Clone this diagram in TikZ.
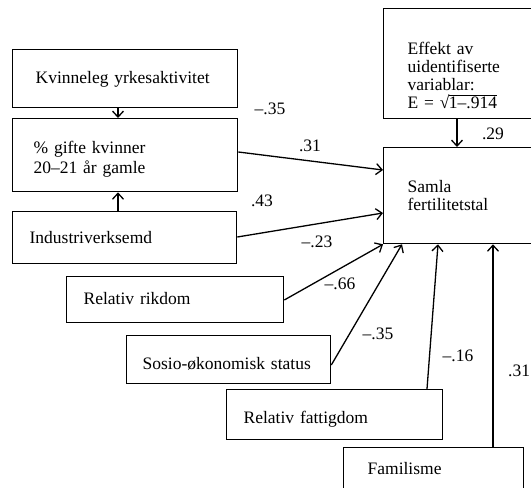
\documentclass[tikz,border=0pt]{standalone}
\usepackage{fontspec}
\setmainfont{Liberation Serif}
\usetikzlibrary{arrows.meta,calc}
\setlength{\lineskiplimit}{-20pt}
\begin{document}
\begin{tikzpicture}[x=1pt,y=-1pt,
  every node/.style={font=\fontsize{17.5}{20}\selectfont},
  bx/.style={draw,line width=1.3pt,rectangle,anchor=north west,align=left,inner ysep=0pt,text depth=4pt},
  lbl/.style={inner sep=0pt,anchor=center},
  con/.style={line width=1.3pt,-{Straight Barb[length=6pt,width=11pt,line width=1.3pt]}}]
\path[use as bounding box,clip] (0,0) rectangle (531,488);
% boxes
\node[bx,minimum width=225,minimum height=58,inner xsep=23,text width=179,text height=14pt] (k1) at (12,49) {Kvinneleg yrkesaktivitet};
\node[bx,minimum width=225,minimum height=73,inner xsep=21,text width=183,text height=19.5pt,text depth=,font=\fontsize{17.5}{20}\selectfont] (k2) at (12,118) {\% gifte kvinner\\20–21 år gamle};
\node[bx,minimum width=224,minimum height=52,inner xsep=17,text width=190,text height=16pt] (k3) at (12,211) {Industriverksemd};
\node[bx,minimum width=170,minimum height=110,inner xsep=24,text width=122,text height=35pt,text depth=,font=\fontsize{17.5}{18}\selectfont] (eff) at (383,8) {Effekt av\\uidentifiserte\\variablar:\\E = √\kern-0.6pt$\overline{\mbox{1–.914}}$};
\node[bx,minimum width=170,minimum height=96,inner xsep=24,text width=122,text height=12pt,text depth=,font=\fontsize{17.5}{18}\selectfont] (sam) at (383,147) {Samla\\fertilitetstal};
\node[bx,minimum width=217,minimum height=46,inner xsep=17,text width=183,text height=14pt] (rik) at (66,276) {Relativ rikdom};
\node[bx,minimum width=204,minimum height=48,inner xsep=16,text width=172,text height=24pt] (sos) at (126,335) {Sosio-økonomisk status};
\node[bx,minimum width=216,minimum height=50,inner xsep=17,text width=182,text height=22pt] (fat) at (226,389) {Relativ fattigdom};
\node[bx,minimum width=180,minimum height=53,inner xsep=24,text width=132,text height=4pt] (fam) at (343,447) {Familisme};
% connectors
\draw[con] ($(k1.south west)+(106,0)$) -- ($(k2.north west)+(106,0)$);
\draw[con] ($(k3.north west)+(106,0)$) -- ($(k2.south west)+(106,0)$);
\draw[con] ($(k2.north east)+(0,34)$) -- ($(sam.north west)+(0,23)$);
\draw[con] ($(k3.north east)+(0,26)$) -- ($(sam.north west)+(0,66)$);
\draw[con] ($(rik.north east)+(0,24)$) -- (sam.south west);
\draw[con] ($(sos.north east)+(0,30)$) -- ($(sam.south west)+(19,0)$);
\draw[con] ($(fat.north west)+(201,0)$) -- ($(sam.south west)+(55,0)$);
\draw[con] ($(fam.north west)+(150,0)$) -- ($(sam.south west)+(110,0)$);
\draw[con] ($(eff.south west)+(74,0)$) -- ($(sam.north west)+(74,0)$);
% labels
\node[lbl] (l1) at (270,109) {–.35};
\node[lbl] (l2) at (310,146) {.31};
\node[lbl] (l3) at (262,201) {.43};
\node[lbl] (l4) at (317,242) {–.23};
\node[lbl] (l5) at (340,284) {–.66};
\node[lbl] (l6) at (378,334) {–.35};
\node[lbl] (l7) at (458,356) {–.16};
\node[lbl,anchor=west] (l8) at (508,371) {.31};
\node[lbl] (l9) at (493,134) {.29};
\end{tikzpicture}
\end{document}
